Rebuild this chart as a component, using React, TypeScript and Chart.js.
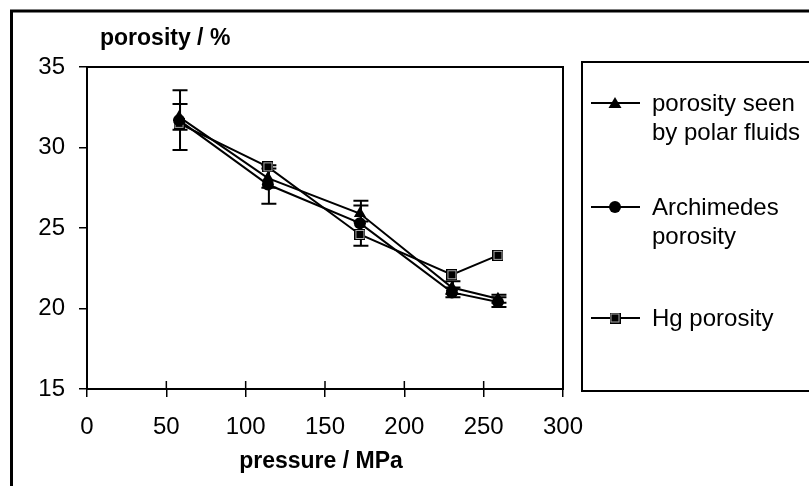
import { useEffect, useRef } from "react";
import { Chart, registerables } from "chart.js";

Chart.register(...registerables);

const pressures = [58, 114, 172, 230, 259];
const polarFluids = [31.9, 28.1, 25.9, 21.3, 20.6];
const polarErr = [0.8, 0.6, 0.5, 0.4, 0.25];
const archimedes = [31.7, 27.7, 25.3, 21.0, 20.4];
const archErr = [1.85, 1.2, 1.4, 0.3, 0.3];
const hgPorosity = [31.5, 28.8, 24.6, 22.1, 23.3];
const xTickValues = [0, 50, 100, 150, 200, 250, 300];
const yTickValues = [15, 20, 25, 30, 35];
const legendLabels = [["porosity seen", "by polar fluids"], ["Archimedes", "porosity"], ["Hg porosity"]];
const legendStyles = ["triangle", "circle", "square"];
const xTitle = "pressure / MPa";
const yTitle = "porosity / %";

const FONT = "'Liberation Sans', Arial, sans-serif";

function makeSquare(): HTMLCanvasElement {
  const c = document.createElement("canvas");
  c.width = 11;
  c.height = 11;
  const g = c.getContext("2d")!;
  g.fillStyle = "#000";
  g.fillRect(0, 0, 11, 11);
  g.strokeStyle = "#aaa";
  g.lineWidth = 1;
  g.strokeRect(1.5, 1.5, 8, 8);
  g.fillStyle = "#000";
  g.fillRect(3, 3, 5, 5);
  return c;
}

function drawMarker(ctx: CanvasRenderingContext2D, style: string, x: number, y: number, sq: HTMLCanvasElement) {
  ctx.save();
  ctx.fillStyle = "#000";
  if (style === "triangle") {
    ctx.beginPath();
    ctx.moveTo(x, y - 6);
    ctx.lineTo(x + 6.5, y + 5);
    ctx.lineTo(x - 6.5, y + 5);
    ctx.closePath();
    ctx.fill();
  } else if (style === "circle") {
    ctx.beginPath();
    ctx.arc(x, y, 6, 0, Math.PI * 2);
    ctx.fill();
  } else {
    ctx.drawImage(sq, x - 5.5, y - 5.5);
  }
  ctx.restore();
}

export default function App() {
  const ref = useRef<HTMLCanvasElement>(null);

  useEffect(() => {
    if (!ref.current) return;
    const square = makeSquare();

    const decor = {
      id: "decor",
      beforeDraw(chart: any) {
        const ctx = chart.ctx;
        ctx.save();
        ctx.fillStyle = "#fff";
        ctx.fillRect(0, 0, chart.width, chart.height);
        ctx.strokeStyle = "#000";
        ctx.lineWidth = 3;
        ctx.strokeRect(11.5, 11, 900, 600);
        ctx.restore();
      },
      beforeDatasetsDraw(chart: any) {
        const ctx = chart.ctx;
        const xs = chart.scales.x;
        const ys = chart.scales.y;
        ctx.save();
        ctx.strokeStyle = "#000";
        ctx.lineWidth = 2;
        chart.data.datasets.forEach((ds: any) => {
          if (!ds.errors) return;
          ds.data.forEach((p: any, i: number) => {
            const e = ds.errors[i];
            const px = xs.getPixelForValue(p.x) + 1;
            const top = ys.getPixelForValue(p.y + e);
            const bot = ys.getPixelForValue(p.y - e);
            ctx.beginPath();
            ctx.moveTo(px, top);
            ctx.lineTo(px, bot);
            ctx.moveTo(px - 7.5, top);
            ctx.lineTo(px + 7.5, top);
            ctx.moveTo(px - 7.5, bot);
            ctx.lineTo(px + 7.5, bot);
            ctx.stroke();
          });
        });
        ctx.restore();
      },
      afterDraw(chart: any) {
        const ctx = chart.ctx;
        const a = chart.chartArea;
        const xs = chart.scales.x;
        ctx.save();
        ctx.strokeStyle = "#000";
        ctx.lineWidth = 2;
        ctx.strokeRect(a.left, a.top, a.right - a.left, a.bottom - a.top);
        ctx.lineWidth = 1.5;
        xTickValues.forEach((v) => {
          const px = xs.getPixelForValue(v);
          ctx.beginPath();
          ctx.moveTo(px, a.bottom - 8);
          ctx.lineTo(px, a.bottom);
          ctx.stroke();
        });
        // titles
        ctx.fillStyle = "#000";
        ctx.font = `bold 23px ${FONT}`;
        ctx.textBaseline = "middle";
        ctx.textAlign = "left";
        ctx.fillText(yTitle, 100, 39);
        ctx.textAlign = "center";
        ctx.fillText(xTitle, (a.left + a.right) / 2 - 4, 462);
        // legend
        ctx.lineWidth = 2;
        ctx.strokeRect(582, 62, 260, 329);
        const ys = [103, 207, 318];
        ctx.font = `24px ${FONT}`;
        ctx.textAlign = "left";
        legendLabels.forEach((lines, i) => {
          const y = ys[i];
          ctx.lineWidth = 2;
          ctx.beginPath();
          ctx.moveTo(591, y);
          ctx.lineTo(640, y);
          ctx.stroke();
          drawMarker(ctx, legendStyles[i], 615, y, square);
          lines.forEach((t, j) => ctx.fillText(t, 652, y + 1 + j * 29));
        });
        ctx.restore();
      },
    };

    const mk = (vals: number[]) => vals.map((v, i) => ({ x: pressures[i], y: v }));

    const chart = new Chart(ref.current, {
      type: "line",
      data: {
        datasets: [
          {
            label: legendLabels[0].join(" "),
            data: mk(polarFluids),
            errors: polarErr,
            borderColor: "#000",
            backgroundColor: "#000",
            borderWidth: 2,
            pointStyle: "triangle",
            pointRadius: 7,
            pointBorderWidth: 0,
            tension: 0,
          } as any,
          {
            label: legendLabels[1].join(" "),
            data: mk(archimedes),
            errors: archErr,
            borderColor: "#000",
            backgroundColor: "#000",
            borderWidth: 2,
            pointStyle: "circle",
            pointRadius: 6,
            pointBorderWidth: 0,
            tension: 0,
          } as any,
          {
            label: legendLabels[2].join(" "),
            data: mk(hgPorosity),
            borderColor: "#000",
            backgroundColor: "#000",
            borderWidth: 2,
            pointStyle: square,
            pointRadius: 6,
            tension: 0,
          } as any,
        ],
      },
      options: {
        animation: false,
        responsive: false,
        devicePixelRatio: 1,
        layout: { padding: { left: 0, top: 67, right: 246, bottom: 0 } },
        plugins: { legend: { display: false }, tooltip: { enabled: false } },
        scales: {
          x: {
            type: "linear",
            min: 0,
            max: 300,
            afterBuildTicks: (s: any) => {
              s.ticks = xTickValues.map((v) => ({ value: v }));
            },
            afterFit: (s: any) => {
              s.height = 97;
            },
            ticks: { color: "#000", font: { family: FONT, size: 24 }, padding: 16, maxRotation: 0 },
            grid: { drawOnChartArea: false, drawTicks: true, tickLength: 8, color: "#000", lineWidth: 1.5 },
            border: { display: true, color: "#000", width: 2 },
          },
          y: {
            type: "linear",
            min: 15,
            max: 35,
            afterBuildTicks: (s: any) => {
              s.ticks = yTickValues.map((v) => ({ value: v }));
            },
            afterFit: (s: any) => {
              s.width = 87;
            },
            ticks: { color: "#000", font: { family: FONT, size: 24 }, padding: 14 },
            grid: { drawOnChartArea: false, drawTicks: true, tickLength: 8, color: "#000", lineWidth: 1.5 },
            border: { display: true, color: "#000", width: 2 },
          },
        },
      } as any,
      plugins: [decor],
    });
    return () => chart.destroy();
  }, []);

  return (
    <div style={{ position: "absolute", left: 0, top: 0, width: 809, height: 486, background: "#fff" }}>
      <canvas ref={ref} width={809} height={486} style={{ width: 809, height: 486, display: "block" }} />
    </div>
  );
}
